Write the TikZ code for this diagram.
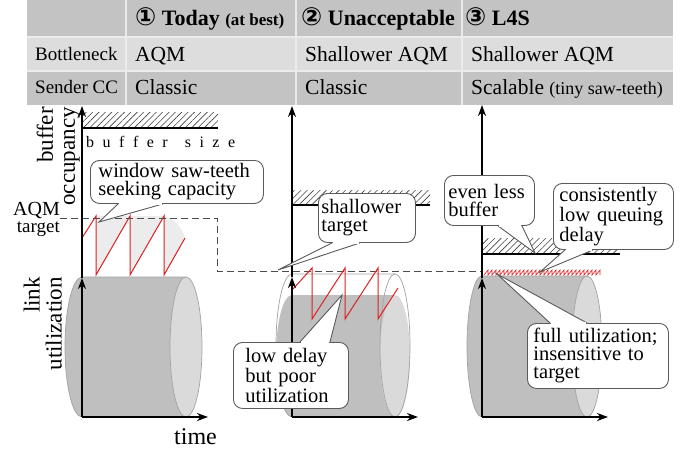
\documentclass[tikz,border=0pt]{standalone}
\usepackage{fontspec}
\setmainfont{Liberation Serif}
\newfontfamily\dejavu{DejaVu Sans}
\usetikzlibrary{arrows.meta,patterns.meta}
\definecolor{hdr}{HTML}{C3C3C3}
\definecolor{rowb}{HTML}{DDDDDD}
\definecolor{sepc}{HTML}{EBEBEB}
\definecolor{cylbody}{HTML}{BFBFBF}
\definecolor{cylface}{HTML}{DADADA}
\definecolor{cylline}{HTML}{A2A2A2}
\definecolor{sawred}{HTML}{E02020}
\definecolor{qfill}{HTML}{ECECEC}
\definecolor{boxline}{HTML}{5A5A5A}
\newcommand\circnum[1]{{\dejavu\bfseries\fontsize{25}{26}\selectfont #1}}
\newcommand\lsp{\hspace{8.5pt}}
\tikzset{
  axisarrow/.style={line width=2.4pt,-{Stealth[length=11pt,width=8pt]}},
  hatchbox/.style={pattern={Lines[angle=45,distance=4.5pt,line width=0.6pt]},pattern color=black!75},
  bufline/.style={line width=1.9pt},
  targetline/.style={dash pattern=on 7pt off 4pt,line width=0.9pt,draw=black!70},
  saw/.style={draw=sawred,line width=1pt,line join=miter},
  cbox/.style={draw=boxline,fill=white,rounded corners=9pt,line width=0.9pt,align=left,
    font=\fontsize{20.5}{18}\selectfont,inner ysep=0pt,anchor=north west},
  ptr/.style={draw=boxline,fill=white,line width=0.9pt},
  eraser/.style={draw=white,line width=1.6pt},
  cyl/.style={draw=cylline,line width=0.7pt},
  tabh/.style={anchor=base west,inner sep=0pt,font=\bfseries\fontsize{22}{24}\selectfont},
  tabs/.style={anchor=base west,inner sep=0pt,font=\fontsize{19}{22}\selectfont},
  tabt/.style={anchor=base west,inner sep=0pt,font=\fontsize{21.5}{24}\selectfont},
  lab/.style={inner sep=0pt,font=\fontsize{23}{22}\selectfont},
  sep/.style={draw=sepc,line width=1.2pt}
}
\begin{document}
\begin{tikzpicture}[x=1pt,y=-1pt]
\useasboundingbox (0,0) rectangle (693,453);
% ---------------- table
\fill[hdr] (27,0) rectangle (673,37);
\fill[rowb] (27,37) rectangle (673,71);
\fill[hdr] (27,71) rectangle (673,105);
\draw[sep] (27,37) -- (673,37) (27,71) -- (673,71)
  (126,0) -- (126,105) (296,0) -- (296,105) (462,0) -- (462,105);
\node[tabh] (h1) at (135,25) {\circnum{①}~Today {\fontsize{17}{20}\selectfont(at best)}};
\node[tabh] (h2) at (301,25) {\circnum{②}~Unacceptable};
\node[tabh] (h3) at (465,25) {\circnum{③}~L4S};
\node[tabs] (r1) at (35,60) {Bottleneck};
\node[tabt] (r1a) at (135,61) {AQM};
\node[tabt] (r1b) at (305,61) {Shallower AQM};
\node[tabt] (r1c) at (471,61) {Shallower AQM};
\node[tabs] (r2) at (35,93) {Sender CC};
\node[tabt] (r2a) at (135,94) {Classic};
\node[tabt] (r2b) at (305,94) {Classic};
\node[tabt] (r2c) at (471,94) {Scalable {\fontsize{18}{20}\selectfont(tiny saw-teeth)}};
% ---------------- panel 1
\fill[qfill] (96,275) -- (96,216) -- (130,216) -- cycle;
\fill[qfill] (130,275) -- (130,216) -- (164,216) -- cycle;
\fill[qfill] (164,275) -- (164,216) .. controls (175,218) and (182,228) .. (185,238) -- cycle;
\draw[cyl,fill=cylbody] (82,277) arc[start angle=90,end angle=270,x radius=17pt,y radius=70pt]
  -- (186,417) -- (186,277) -- cycle;
\draw[cyl,fill=cylface] (186,347) ellipse[x radius=16pt,y radius=70pt];
\draw[saw] (82,238) -- (96,216) -- (96,275) -- (130,216) -- (130,275) -- (164,216) -- (164,275) -- (185,238);
\fill[hatchbox] (82,112) rectangle (218,128);
\draw[bufline] (82,128) -- (218,128);
\node[anchor=base west,inner sep=0pt,font=\fontsize{16}{18}\selectfont] (bs) at (86,147)
  {b\lsp u\lsp f\lsp f\lsp e\lsp r\hspace{17pt}s\lsp i\lsp z\lsp e};
\draw[targetline] (60,218) -- (217,218) -- (217,271) -- (482,271);
\coordinate (o1) at (82,417);
\coordinate (m1) at (82,278);
\coordinate (u1) at (82,106);
\coordinate (e1) at (208,417);
\draw[axisarrow] (o1) -- (m1);
\draw[axisarrow] (m1) -- (u1);
\draw[axisarrow] (o1) -- (e1);
\node[lab,rotate=90,align=right,anchor=south east] (bo) at (80,107) {buffer\\occupancy};
\node[lab,rotate=90,align=right,anchor=south east] (lu) at (62,277) {link\\utilization};
\node[anchor=base east,inner sep=0pt,font=\fontsize{20}{22}\selectfont] (aqm) at (60,215) {AQM};
\node[anchor=base east,inner sep=0pt,font=\fontsize{19}{22}\selectfont] (tg) at (60,232) {target};
\node[anchor=base west,inner sep=0pt,font=\fontsize{24}{26}\selectfont] (tm) at (174,444) {time};
% ---------------- panel 2
\fill[cylbody] (292,295) arc[start angle=90,end angle=270,x radius=16pt,y radius=61pt]
  -- (395,417) -- (395,295) -- cycle;
\fill[cylface] (395,356) ellipse[x radius=15pt,y radius=61pt];
\draw[cyl] (395,274) -- (292,274) arc[start angle=90,end angle=270,x radius=16pt,y radius=71.5pt] -- (395,417);
\draw[cyl] (395,345.5) ellipse[x radius=15pt,y radius=71.5pt];
\draw[saw] (293,289) -- (312,268) -- (312,319) -- (345,268) -- (345,319) -- (378,268) -- (378,319) -- (398,288);
\fill[hatchbox] (292,190) rectangle (430,205);
\draw[bufline] (292,205) -- (430,205);
\coordinate (o2) at (292,417);
\coordinate (m2) at (292,277);
\coordinate (u2) at (292,106);
\coordinate (e2) at (418,417);
\draw[axisarrow] (o2) -- (m2);
\draw[axisarrow] (m2) -- (u2);
\draw[axisarrow] (o2) -- (e2);
% ---------------- panel 3
\draw[cyl,fill=cylbody] (482,276) arc[start angle=90,end angle=270,x radius=15pt,y radius=70.5pt]
  -- (587,417) -- (587,276) -- cycle;
\draw[cyl,fill=cylface] (587,346.5) ellipse[x radius=15pt,y radius=70.5pt];
\draw[saw,line width=0.6pt] (484,275) foreach \i in {1,...,29} { -- ++(4,-5) -- ++(0,5) };
\fill[hatchbox] (482,238) rectangle (620,254);
\draw[bufline] (482,254) -- (620,254);
\coordinate (o3) at (482,417);
\coordinate (m3) at (482,278);
\coordinate (u3) at (482,105);
\coordinate (e3) at (608,417);
\draw[axisarrow] (o3) -- (m3);
\draw[axisarrow] (m3) -- (u3);
\draw[axisarrow] (o3) -- (e3);
% ---------------- callouts
% c1
\node[cbox,minimum width=173,minimum height=43,text width=157,inner xsep=8] (c1) at (90,160)
  {window saw-teeth\\seeking capacity};
\coordinate (t1) at (99,222);
\draw[ptr] ([xshift=28pt]c1.south west) -- (t1) -- ([xshift=73pt]c1.south west);
\draw[eraser] ([xshift=29pt]c1.south west) -- ([xshift=72pt]c1.south west);
% c2
\node[cbox,minimum width=97,minimum height=49,text width=91,inner xsep=3] (c2) at (318,193)
  {shallower\\target};
\coordinate (t2) at (278,270);
\draw[ptr] ([xshift=14pt]c2.south west) -- (t2) -- ([xshift=42pt]c2.south west);
\draw[eraser] ([xshift=15pt]c2.south west) -- ([xshift=41pt]c2.south west);
% c3
\node[cbox,minimum width=115,minimum height=66,text width=91,inner xsep=12] (c3) at (233,342)
  {low delay\\but poor\\utilization};
\coordinate (t3) at (342,295);
\draw[ptr] ([xshift=67pt]c3.north west) -- (t3) -- ([xshift=97pt]c3.north west);
\draw[eraser] ([xshift=68pt]c3.north west) -- ([xshift=96pt]c3.north west);
% c4
\node[cbox,minimum width=90,minimum height=50,text width=82,inner xsep=4] (c4) at (444,175)
  {even less\\buffer};
\coordinate (t4) at (535,253);
\draw[ptr] ([xshift=54pt]c4.south west) -- (t4) -- ([xshift=78pt]c4.south west);
\draw[eraser] ([xshift=55pt]c4.south west) -- ([xshift=77pt]c4.south west);
% c5
\node[cbox,minimum width=120,minimum height=66,text width=108,inner xsep=6] (c5) at (553,183)
  {consistently\\low queuing\\delay};
\coordinate (t5) at (540,272);
\draw[ptr] ([xshift=12pt]c5.south west) -- (t5) -- ([xshift=40pt]c5.south west);
\draw[eraser] ([xshift=13pt]c5.south west) -- ([xshift=39pt]c5.south west);
% c6
\node[cbox,minimum width=141,minimum height=65,text width=129,inner xsep=6] (c6) at (527,323)
  {full utilization;\\insensitive to\\target};
\coordinate (t6) at (497,274);
\draw[ptr] ([xshift=23pt]c6.north west) -- (t6) -- ([xshift=60pt]c6.north west);
\draw[eraser] ([xshift=24pt]c6.north west) -- ([xshift=59pt]c6.north west);
\end{tikzpicture}
\end{document}
